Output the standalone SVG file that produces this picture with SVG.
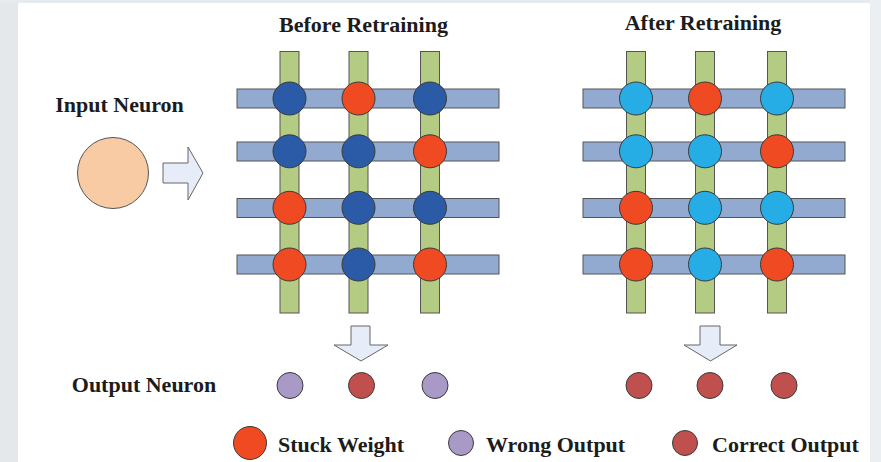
<svg xmlns="http://www.w3.org/2000/svg" width="881" height="462" viewBox="0 0 881 462">
<defs>
<style>
text{font-family:"Liberation Serif","Times New Roman",serif;font-weight:bold;font-size:22px;fill:#1c1c1c}
.vb{fill:#b4cb84;stroke:#555;stroke-width:1}
.hb{fill:#92aad0;stroke:#555;stroke-width:1}
.c{stroke:#3a3a3a;stroke-width:1}
.db{fill:#2b5aa6}
.st{fill:#ef4a22}
.lb{fill:#27ade5}
.wo{fill:#a899c6}
.co{fill:#c0504d}
.ar{fill:#e6edf8;stroke:#666;stroke-width:1}
</style>
</defs>
<rect width="881" height="462" fill="#ffffff"/>
<rect x="0" y="0" width="18" height="462" fill="#e4e8eb"/>
<rect x="0" y="0" width="881" height="3" fill="#e6ebf0"/>
<rect x="870" y="0" width="11" height="462" fill="#eceff1"/>

<g id="title-before"><text x="363.5" y="32" text-anchor="middle">Before Retraining</text></g>
<g id="title-after"><text x="703" y="30" text-anchor="middle">After Retraining</text></g>

<g id="input-neuron">
<text x="119.5" y="112" text-anchor="middle">Input Neuron</text>
<circle cx="113" cy="173" r="35.5" fill="#f9cba5" stroke="#555" stroke-width="1"/>
</g>

<g id="output-label"><text x="144" y="392" text-anchor="middle">Output Neuron</text></g>

<g id="grid-before">
<rect class="vb" x="280" y="51.5" width="19" height="261.5"/>
<rect class="vb" x="349" y="51.5" width="19" height="261.5"/>
<rect class="vb" x="420.5" y="51.5" width="19" height="261.5"/>
<rect class="hb" x="237" y="89" width="262" height="19"/>
<rect class="hb" x="237" y="142" width="262" height="19"/>
<rect class="hb" x="237" y="198.5" width="262" height="19"/>
<rect class="hb" x="237" y="255" width="262" height="19"/>
<circle class="c db" cx="289.5" cy="98.5" r="16.5"/>
<circle class="c st" cx="358.5" cy="98.5" r="16.5"/>
<circle class="c db" cx="430" cy="98.5" r="16.5"/>
<circle class="c db" cx="289.5" cy="151.3" r="16.5"/>
<circle class="c db" cx="358.5" cy="151.3" r="16.5"/>
<circle class="c st" cx="430" cy="151.3" r="16.5"/>
<circle class="c st" cx="289.5" cy="207.8" r="16.5"/>
<circle class="c db" cx="358.5" cy="207.8" r="16.5"/>
<circle class="c db" cx="430" cy="207.8" r="16.5"/>
<circle class="c st" cx="289.5" cy="264.5" r="16.5"/>
<circle class="c db" cx="358.5" cy="264.5" r="16.5"/>
<circle class="c st" cx="430" cy="264.5" r="16.5"/>
</g>

<g id="grid-after">
<rect class="vb" x="626.5" y="51.5" width="19" height="261.5"/>
<rect class="vb" x="695.5" y="51.5" width="19" height="261.5"/>
<rect class="vb" x="767.5" y="51.5" width="19" height="261.5"/>
<rect class="hb" x="583" y="89" width="262" height="19"/>
<rect class="hb" x="583" y="142" width="262" height="19"/>
<rect class="hb" x="583" y="198.5" width="262" height="19"/>
<rect class="hb" x="583" y="255" width="262" height="19"/>
<circle class="c lb" cx="636" cy="98.5" r="16.5"/>
<circle class="c st" cx="705" cy="98.5" r="16.5"/>
<circle class="c lb" cx="777" cy="98.5" r="16.5"/>
<circle class="c lb" cx="636" cy="151.3" r="16.5"/>
<circle class="c lb" cx="705" cy="151.3" r="16.5"/>
<circle class="c st" cx="777" cy="151.3" r="16.5"/>
<circle class="c st" cx="636" cy="207.8" r="16.5"/>
<circle class="c lb" cx="705" cy="207.8" r="16.5"/>
<circle class="c lb" cx="777" cy="207.8" r="16.5"/>
<circle class="c st" cx="636" cy="264.5" r="16.5"/>
<circle class="c lb" cx="705" cy="264.5" r="16.5"/>
<circle class="c st" cx="777" cy="264.5" r="16.5"/>
</g>

<g id="connectors">
<polygon class="ar" points="163,163 188,163 188,147 203,173 188,200 188,183 163,183"/>
<polygon class="ar" points="351,326 370,326 370,345 388,345 361,361 334,345 351,345"/>
<polygon class="ar" points="700,326 720,326 720,345 737,345 710.5,361 684,345 700,345"/>
</g>

<g id="outputs-before">
<circle class="c wo" cx="290" cy="385.5" r="13"/>
<circle class="c co" cx="361.5" cy="385.5" r="13"/>
<circle class="c wo" cx="435" cy="385.5" r="13"/>
</g>
<g id="outputs-after">
<circle class="c co" cx="639" cy="385.5" r="13"/>
<circle class="c co" cx="710" cy="385.5" r="13"/>
<circle class="c co" cx="784" cy="385.5" r="13"/>
</g>

<g id="legend">
<circle class="c st" cx="250" cy="443" r="16.5"/>
<text x="278" y="452">Stuck Weight</text>
<circle class="c wo" cx="461" cy="443" r="12.5"/>
<text x="486" y="452">Wrong Output</text>
<circle class="c co" cx="685" cy="443" r="12.5"/>
<text x="712" y="452">Correct Output</text>
</g>
</svg>
